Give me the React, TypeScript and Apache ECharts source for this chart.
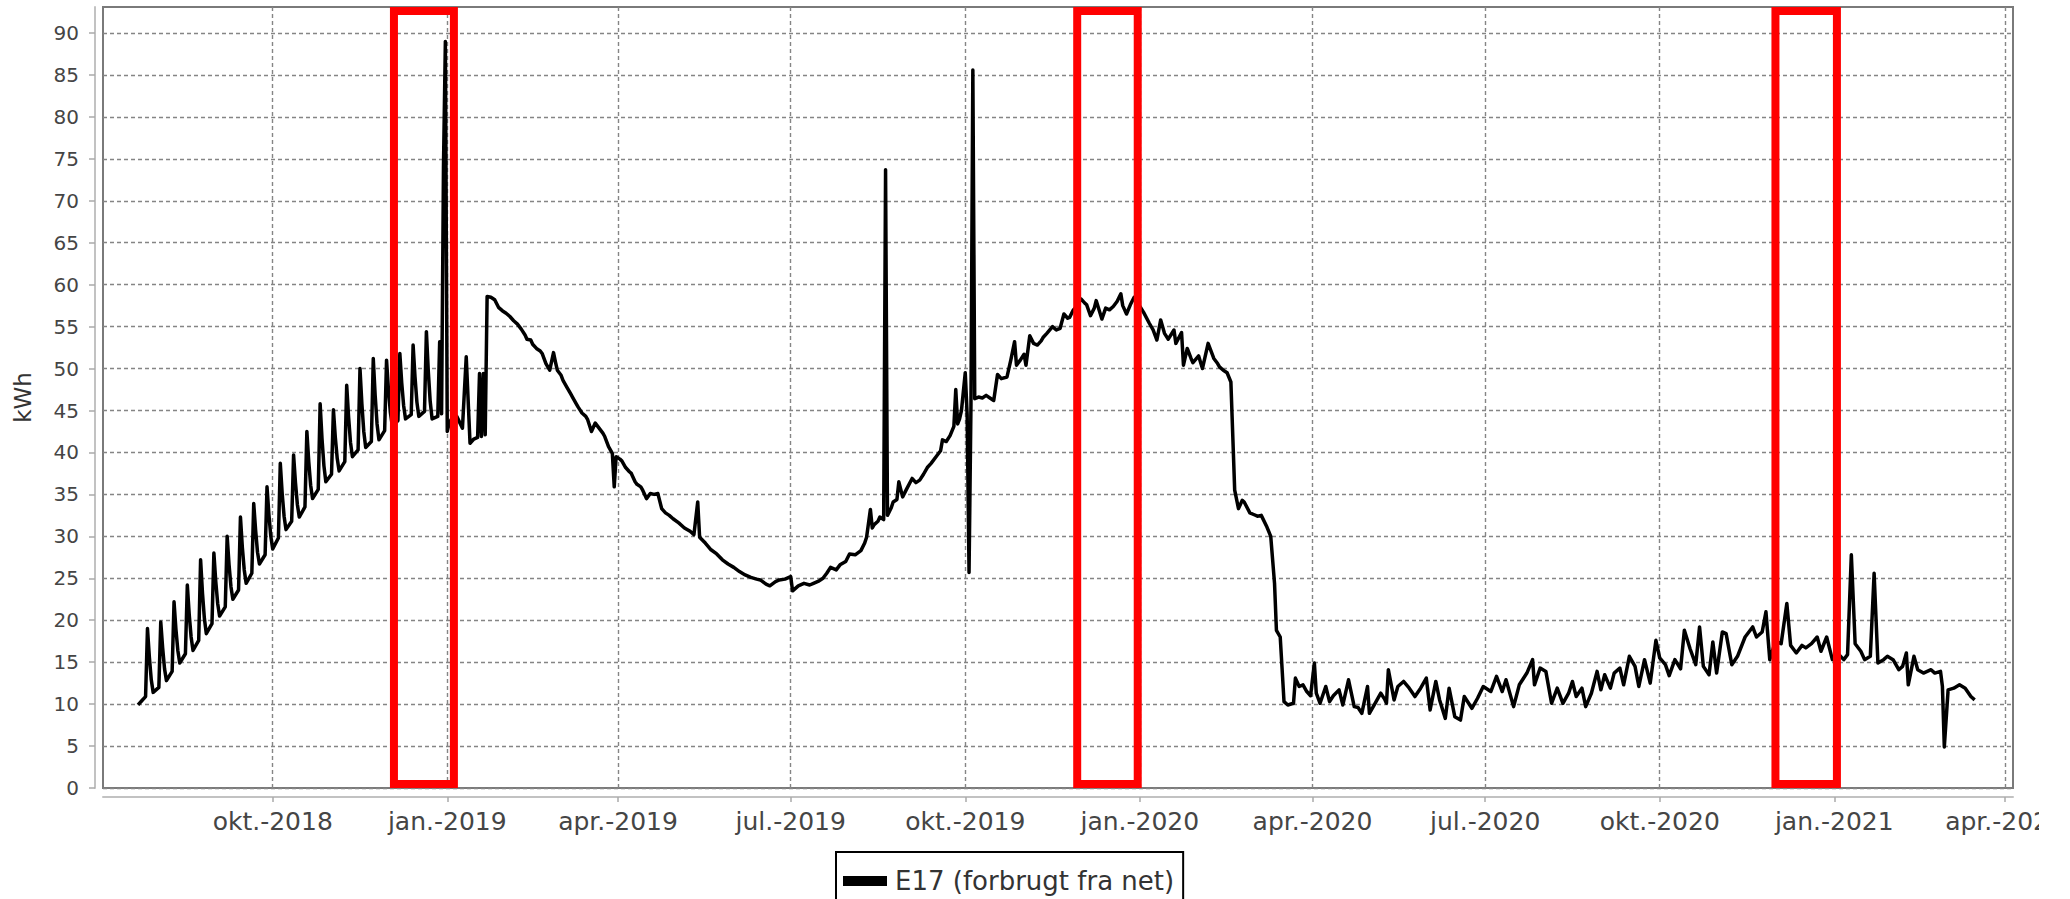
import { useEffect, useRef } from 'react';
import * as echarts from 'echarts';

// Day offsets are counted from 2018-10-01; values in kWh.
const BASE_DATE = '2018-10-01';
const SERIES_NAME = 'E17 (forbrugt fra net)';
const FONT = 'DejaVu Sans';

const quarterTicks = [
  '2018-10-01', '2019-01-01', '2019-04-01', '2019-07-01', '2019-10-01', '2020-01-01',
  '2020-04-01', '2020-07-01', '2020-10-01', '2021-01-01', '2021-04-01',
];
const monthNames = ['jan.', 'feb.', 'mar.', 'apr.', 'maj', 'jun.', 'jul.', 'aug.', 'sep.', 'okt.', 'nov.', 'dec.'];
const yTicks = [0, 5, 10, 15, 20, 25, 30, 35, 40, 45, 50, 55, 60, 65, 70, 75, 80, 85, 90];

// visible window of the time axis (day offsets) and value axis top
const xRange = [-89.44, 917.2];
const yMax = 93.1;

// red highlight frames: [startDay, endDay], vertical span in kWh
const highlightFrames: [number, number][] = [[63.9, 95.5], [424.0, 455.9], [792.0, 824.4]];
const frameTop = 92.62;
const frameBottom = 0.48;

const summer2018: [number, number][] = [
  [-71, 9.9], [-69, 10.4], [-67, 10.9],
  [-66, 19.0], [-65, 15.6], [-64, 12.9], [-63, 11.4], [-60, 12.0],
  [-59, 19.8], [-58, 16.7], [-57, 14.2], [-56, 12.8], [-53, 13.9],
  [-52, 22.2], [-51, 18.9], [-50, 16.4], [-49, 14.9], [-46, 16.0],
  [-45, 24.2], [-44, 20.7], [-43, 18.0], [-42, 16.4], [-39, 17.6],
  [-38, 27.2], [-37, 23.2], [-36, 20.2], [-35, 18.4], [-32, 19.6],
  [-31, 28.0], [-30, 24.6], [-29, 22.0], [-28, 20.5], [-25, 21.6],
  [-24, 30.0], [-23, 26.6], [-22, 24.0], [-21, 22.5], [-18, 23.6],
  [-17, 32.3], [-16, 28.7], [-15, 26.0], [-14, 24.4], [-11, 25.6],
  [-10, 33.9], [-9, 30.7], [-8, 28.1], [-7, 26.7], [-4, 27.8],
  [-3, 35.9], [-2, 32.6], [-1, 30.0], [0, 28.5], [3, 29.8],
  [4, 38.7], [5, 35.1], [6, 32.4], [7, 30.8], [10, 31.8],
  [11, 39.7], [12, 36.4], [13, 33.8], [14, 32.3], [17, 33.5],
  [18, 42.5], [19, 38.9], [20, 36.1], [21, 34.5], [24, 35.6],
  [25, 45.8], [26, 41.6], [27, 38.4], [28, 36.5], [31, 37.4],
  [32, 45.1], [33, 41.8], [34, 39.3], [35, 37.8], [38, 38.9],
  [39, 48.0], [40, 44.2], [41, 41.2], [42, 39.5], [45, 40.3],
  [46, 50.0], [47, 45.8], [48, 42.5], [49, 40.6], [52, 41.3],
  [53, 51.2], [54, 46.8], [55, 43.4], [56, 41.5], [59, 42.6],
  [60, 51.0], [61, 47.5], [62, 44.8], [63, 43.2], [66, 43.8],
  [67, 51.8], [68, 48.3], [69, 45.6], [70, 44.0], [73, 44.5],
  [74, 52.8], [75, 49.0], [76, 46.0], [77, 44.3], [80, 44.9],
  [81, 54.4], [82, 49.7], [83, 46.1], [84, 44.0], [87, 44.3],
  [88, 53.2], [89, 44.6], [90, 74.0], [91, 89.0], [92, 42.5],
];

const winter2019: [number, number][] = [
  [93, 43.5], [95, 44.3], [97, 44.3], [100, 42.9], [102, 51.4], [104, 41.1], [106, 41.6], [108, 41.8],
  [109, 49.4], [110, 41.9], [111, 49.4], [112, 42.1], [113, 58.6], [115, 58.5], [117, 58.2], [119, 57.3],
  [121, 56.9], [123, 56.6], [125, 56.2], [127, 55.7], [129, 55.3], [131, 54.7], [133, 54.0], [134, 53.5],
  [136, 53.4], [137, 52.9], [139, 52.4], [141, 52.1], [142, 51.8], [144, 50.6], [146, 49.8], [148, 51.9],
  [149, 50.8], [150, 49.8], [152, 49.2], [153, 48.6], [155, 47.8], [157, 47.0], [158, 46.6], [160, 45.8],
  [161, 45.4], [163, 44.7], [165, 44.3], [166, 43.9], [168, 42.5], [170, 43.5], [172, 42.9], [174, 42.3],
  [175, 41.9], [177, 40.7], [179, 39.9], [180, 35.9], [181, 39.5], [183, 39.2], [184, 39.0], [186, 38.2],
  [188, 37.7], [189, 37.5], [191, 36.5], [192, 36.2], [194, 35.9], [195, 35.5], [197, 34.5], [199, 35.1],
  [201, 35.0], [203, 35.1], [205, 33.3], [207, 32.8], [209, 32.5], [211, 32.1], [214, 31.6], [217, 31.0],
  [220, 30.6], [222, 30.2], [224, 34.1], [225, 29.9], [228, 29.2], [231, 28.4], [234, 27.9], [237, 27.2],
  [240, 26.7], [243, 26.3], [246, 25.8], [249, 25.4], [252, 25.1], [255, 24.9],
];

const autumn2019: [number, number][] = [
  [257, 24.8], [260, 24.3], [262, 24.1], [265, 24.6], [267, 24.8], [270, 24.9], [273, 25.2], [274, 23.5],
  [277, 24.1], [280, 24.4], [283, 24.2], [285, 24.4], [288, 24.7], [290, 25.0], [292, 25.6], [294, 26.3],
  [297, 26.0], [299, 26.6], [302, 27.0], [304, 27.9], [307, 27.8], [310, 28.3], [312, 29.2], [313, 29.9],
  [315, 33.2], [316, 31.0], [317, 31.4], [319, 31.8], [320, 32.3], [322, 32.0], [323, 73.7], [324, 32.5],
  [326, 33.4], [327, 34.1], [329, 34.4], [330, 36.5], [332, 34.7], [334, 35.6], [337, 36.9], [339, 36.4],
  [341, 36.7], [343, 37.4], [345, 38.2], [347, 38.7], [350, 39.6], [352, 40.2], [353, 41.5], [355, 41.3],
  [357, 42.0], [359, 43.1], [360, 47.5], [361, 43.4], [362, 44.0], [363, 45.0], [365, 49.5], [366, 44.5],
  [367, 25.7], [368, 45.5], [369, 85.6], [370, 46.4], [372, 46.6], [374, 46.5], [376, 46.8], [378, 46.5],
  [380, 46.2], [382, 49.3], [384, 48.8], [387, 49.0], [389, 51.0], [391, 53.2], [392, 50.4], [394, 51.0],
  [396, 51.7], [397, 50.4], [399, 53.9], [401, 53.0], [403, 52.8], [405, 53.3], [406, 53.7], [408, 54.2],
  [411, 55.0], [413, 54.6], [415, 54.8], [417, 56.5], [419, 56.0], [420, 56.1], [422, 57.0], [424, 57.5],
  [426, 58.3], [428, 57.8], [429, 57.6], [431, 56.3], [433, 57.2], [434, 58.1], [437, 55.9], [439, 57.2],
  [441, 57.0], [443, 57.4], [445, 58.0], [447, 58.9], [448, 57.5], [450, 56.5], [452, 57.6], [454, 58.5],
  [456, 57.8], [459, 56.7], [462, 55.4],
];

const spring2020: [number, number][] = [
  [464, 54.6], [466, 53.4], [468, 55.8], [470, 54.2], [472, 53.5], [475, 54.6], [476, 53.0], [479, 54.3],
  [480, 50.4], [482, 52.4], [484, 51.2], [485, 50.7], [488, 51.5], [490, 50.0], [493, 53.0], [496, 51.2],
  [498, 50.6], [499, 50.2], [501, 49.8], [503, 49.5], [505, 48.4], [507, 35.5], [509, 33.3], [511, 34.3],
  [512, 34.1], [515, 32.8], [517, 32.6], [519, 32.4], [521, 32.5], [524, 31.1], [526, 30.0], [528, 24.4],
  [529, 18.8], [531, 18.0], [533, 10.3], [535, 9.9], [538, 10.1], [539, 13.1], [541, 12.1], [543, 12.3],
  [545, 11.5], [547, 11.0], [549, 14.9], [550, 11.3],
];

const rest2020: [number, number][] = [
  [552, 10.1], [555, 12.1], [557, 10.3], [559, 11.0], [562, 11.7], [564, 9.9], [567, 12.9], [570, 9.7],
  [572, 9.6], [574, 8.9], [577, 12.1], [578, 8.9], [581, 10.1], [584, 11.3], [586, 10.6], [587, 10.1],
  [588, 14.1], [591, 10.5], [593, 12.1], [596, 12.7], [599, 11.9], [602, 10.9], [605, 11.9], [608, 13.1],
  [610, 9.3], [613, 12.7], [615, 10.5], [618, 8.3], [620, 11.9], [623, 8.5], [626, 8.1], [628, 10.9],
  [632, 9.5], [635, 10.7], [638, 12.1], [642, 11.5], [645, 13.3], [648, 11.5], [650, 12.9], [654, 9.7],
  [657, 12.3], [661, 13.7], [664, 15.3], [665, 12.3], [668, 14.3], [671, 13.9], [674, 10.1], [677, 11.9],
  [680, 10.1], [683, 11.3], [685, 12.7], [687, 10.9], [690, 11.9], [692, 9.7], [695, 11.3], [698, 13.9],
  [700, 11.7], [702, 13.5], [705, 11.9], [707, 13.7], [710, 14.3], [712, 12.3], [715, 15.7], [718, 14.5],
  [720, 12.1], [723, 15.3], [726, 12.5], [729, 17.6], [731, 15.5], [734, 14.7], [736, 13.4], [739, 15.3],
  [742, 14.2], [744, 18.8], [747, 16.6], [750, 14.7], [752, 19.2], [754, 14.5], [757, 13.5], [759, 17.4],
  [761, 13.7], [764, 18.6], [766, 18.4], [769, 14.7], [772, 15.7], [776, 18.0], [780, 19.2], [782, 18.0],
  [785, 18.6], [787, 21.0], [789, 15.3], [792, 17.5], [795, 17.2], [798, 22.0], [800, 17.0], [803, 16.1],
  [806, 17.0], [808, 16.7], [811, 17.2], [814, 18.0], [816, 16.3], [819, 18.0], [822, 15.3], [825, 16.0],
  [828, 15.3], [830, 15.9], [832, 27.8], [834, 17.2], [837, 16.3], [839, 15.3], [842, 15.7], [844, 25.6],
  [846, 14.9], [849, 15.3], [851, 15.7], [854, 15.3], [857, 14.1], [859, 14.5], [861, 16.1], [862, 12.3],
  [865, 15.7], [867, 14.1], [870, 13.7], [874, 14.1], [876, 13.7], [879, 13.9], [880, 12.1], [881, 4.9],
  [883, 11.7], [886, 11.9], [889, 12.3], [892, 11.9], [895, 10.9], [897, 10.5],
];

const DAY = 86400000;
const BASE_TS = Date.parse(BASE_DATE);
const toTs = (d: number) => BASE_TS + d * DAY;

export default function App() {
  const ref = useRef<HTMLDivElement>(null);

  useEffect(() => {
    document.body.style.margin = '0';
    if (!ref.current) return;
    const chart = echarts.init(ref.current, undefined, { renderer: 'svg' });

    const readings = [...summer2018, ...winter2019, ...autumn2019, ...spring2020, ...rest2020];
    const tickTs = quarterTicks.map((s) => Date.parse(s));
    const gridLine = { show: true, lineStyle: { type: [4, 3] as number[], color: '#858585', width: 1.4 } };
    const axisLineStyle = { color: '#c2c2c2', width: 2 };

    chart.setOption({
      animation: false,
      textStyle: { fontFamily: FONT },
      grid: {
        left: 103, right: 57, top: 7, bottom: 111,
        show: true, borderColor: '#7a7a7a', borderWidth: 2, backgroundColor: '#fff',
        containLabel: false,
      },
      xAxis: {
        type: 'value',
        min: toTs(xRange[0]),
        max: toTs(xRange[1]),
        offset: 9,
        axisLine: { show: true, onZero: false, lineStyle: axisLineStyle },
        axisTick: { show: true, length: 5, lineStyle: { color: '#aaaaaa', width: 1.5 }, customValues: tickTs },
        axisLabel: {
          customValues: tickTs,
          fontSize: 25,
          color: '#454545',
          margin: 12,
          fontFamily: FONT,
          formatter: (v: number) => {
            const d = new Date(v);
            return `${monthNames[d.getUTCMonth()]}-${d.getUTCFullYear()}`;
          },
        },
        splitLine: gridLine,
      },
      yAxis: {
        type: 'value',
        min: 0,
        max: yMax,
        interval: 5,
        offset: 8,
        name: 'kWh',
        nameLocation: 'middle',
        nameGap: 61,
        nameRotate: 90,
        nameTextStyle: { fontSize: 23, color: '#333', fontFamily: FONT },
        axisLine: { show: true, onZero: false, lineStyle: axisLineStyle },
        axisTick: { show: true, length: 6, lineStyle: { color: '#aaaaaa', width: 1.5 }, customValues: yTicks },
        axisLabel: { customValues: yTicks, fontSize: 20, color: '#454545', margin: 16, fontFamily: FONT },
        splitLine: gridLine,
      },
      legend: {
        data: [SERIES_NAME],
        left: 836,
        top: 852,
        icon: 'rect',
        itemWidth: 44,
        itemHeight: 10,
        borderColor: '#000',
        borderWidth: 2,
        padding: [16, 9, 16, 7],
        textStyle: { fontSize: 26, color: '#333', fontFamily: FONT, padding: [0, 0, 0, 3] },
      },
      graphic: [
        { type: 'rect', left: 2039, top: 803, shape: { width: 40, height: 45 }, style: { fill: '#fff' }, z: 100 },
      ],
      series: [
        {
          type: 'line',
          name: SERIES_NAME,
          data: readings.map(([d, v]) => [toTs(d), v]),
          showSymbol: false,
          symbol: 'none',
          color: '#000',
          lineStyle: { color: '#000', width: 3.5, join: 'round' },
          itemStyle: { color: '#000' },
          markArea: {
            silent: true,
            z: 10,
            itemStyle: { color: 'rgba(0,0,0,0)', borderColor: '#ff0000', borderWidth: 8 },
            data: highlightFrames.map(([a, b]) => [
              { xAxis: toTs(a), yAxis: frameTop },
              { xAxis: toTs(b), yAxis: frameBottom },
            ]),
          },
        },
      ],
    });

    return () => chart.dispose();
  }, []);

  return <div ref={ref} style={{ position: 'absolute', left: 0, top: 0, width: 2070, height: 899 }} />;
}
